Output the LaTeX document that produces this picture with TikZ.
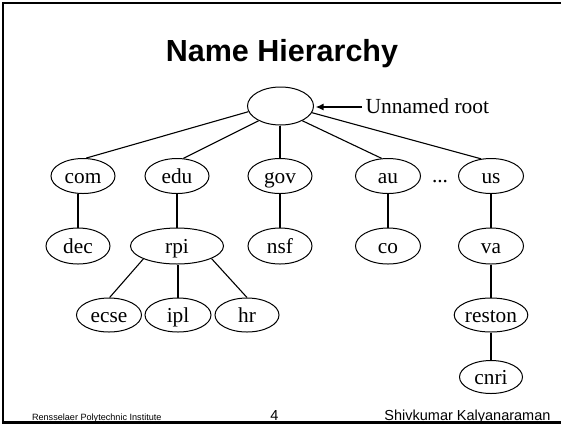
\documentclass[tikz,border=0pt]{standalone}
\usepackage{fontspec}
\setmainfont{Liberation Serif}
\newfontfamily\slidesans{Liberation Sans}
\usetikzlibrary{shapes.geometric,arrows.meta}

\begin{document}
\begin{tikzpicture}[x=1pt,y=-1pt,
  dnsnode/.style={ellipse, draw, line width=1pt, inner sep=0pt,
    font=\fontsize{21.3}{24}\selectfont, text height=18pt, text depth=4pt},
  lvl/.style={dnsnode, minimum width=64pt, minimum height=35pt},
  link/.style={line width=2pt},
  slant/.style={line width=1.1pt}]
  \useasboundingbox (0,0) rectangle (561,424);
  % slide frame (open on the right)
  \draw[line width=2.6pt] (562,2.9) -- (2.9,2.9) -- (2.9,422.7) -- (562,422.7);

  % title
  \node[font=\slidesans\bfseries\fontsize{30.5}{34}\selectfont, anchor=base]
    (title) at (282,61) {Name Hierarchy};

  % root
  \node[dnsnode, minimum width=66pt, minimum height=38pt] (root) at (280.5,106) {};
  \node[font=\fontsize{21.5}{24}\selectfont, anchor=base west] (rootlbl) at (362,113) {Unnamed root};
  \draw[line width=1.8pt, -{Latex[length=8pt,width=7pt]}, shorten >=1.5pt]
    ([yshift=-1pt]rootlbl.west |- root.center) -- ([yshift=-1pt]root.east);

  % top-level domains
  \node[lvl] (com) at (83,176) {com};
  \node[lvl] (edu) at (177,176) {edu};
  \node[lvl] (gov) at (280,176) {gov};
  \node[lvl, minimum width=65pt] (au) at (388,176) {au};
  \node[lvl, minimum width=65pt] (us) at (491,176) {us};
  \node[font=\fontsize{21.3}{24}\selectfont, anchor=base] (dots) at (440,182) {...};

  % second level
  \node[lvl, minimum width=64pt, minimum height=36pt] (dec) at (78,246) {dec};
  \node[lvl, minimum width=93pt, minimum height=36pt] (rpi) at (177,246) {rpi};
  \node[lvl, minimum height=36pt] (nsf) at (280,246) {nsf};
  \node[lvl, minimum width=65pt, minimum height=36pt] (co) at (388,246) {co};
  \node[lvl, minimum width=65pt, minimum height=36pt] (va) at (491,246) {va};

  % third level
  \node[lvl, minimum width=65pt, minimum height=34pt] (ecse) at (109,315) {ecse};
  \node[lvl, minimum width=66pt, minimum height=34pt] (ipl) at (178,315) {ipl};
  \node[lvl, minimum height=34pt] (hr) at (247,315) {hr};
  \node[lvl, minimum width=61pt, minimum height=34pt] (reston) at (491,315) {reston};
  \node[lvl, minimum width=63pt, minimum height=33pt] (cnri) at (491,377) {cnri};

  % edges from the root
  \draw[slant] (root.190) -- (com.80);
  \draw[slant] (root.214) -- (edu.70);
  \draw[link] (gov.north |- root.south) -- (gov.north);
  \draw[slant] (root.-34) -- (au.110);
  \draw[slant] (root.-12) -- (us.120);

  % lower edges
  \draw[link] (dec.north) -- (dec.north |- com.south);
  \draw[link] (edu.south) -- (rpi.north);
  \draw[link] (gov.south) -- (nsf.north);
  \draw[link] (au.south) -- (co.north);
  \draw[link] (us.south) -- (va.north);
  \draw[slant] (rpi.-159) -- (ecse.88);
  \draw[link] (rpi.south -| ipl.north) -- (ipl.north);
  \draw[slant] (rpi.-20) -- (hr.north);
  \draw[link] (va.south) -- (reston.north);
  \draw[link] (reston.south) -- (cnri.north);

  % footer
  \node[font=\slidesans\fontsize{9.1}{10}\selectfont, anchor=base west] (inst) at (28.5,420) {Rensselaer Polytechnic Institute};
  \node[font=\slidesans\fontsize{14.5}{16}\selectfont, anchor=base] (page) at (274.5,420) {4};
  \node[font=\slidesans\fontsize{14.5}{16}\selectfont, anchor=base east] (author) at (554,420) {Shivkumar Kalyanaraman};
\end{tikzpicture}
\end{document}
